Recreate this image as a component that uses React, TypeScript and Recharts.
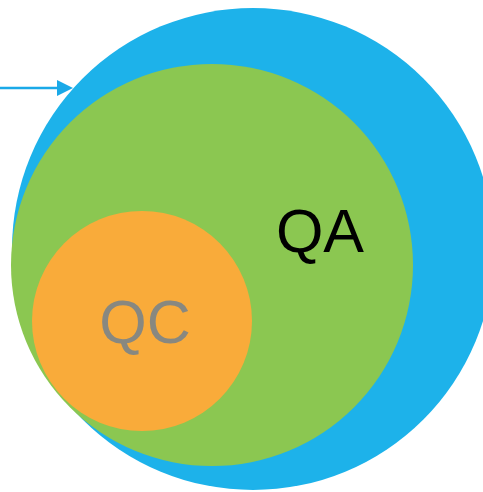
import { ReferenceLine, ReferenceDot, Scatter, ScatterChart, XAxis, YAxis } from 'recharts'

// circles, in page pixels (domain == chart size)
const circleNames = ['scope', 'QA', 'QC']
const circleX = [253, 212, 142]
const circleY = [249, 265, 321]
const circleR = [241, 201, 110]
const circleFill = ['#1db2ea', '#8bc751', '#f9ab3a']

const labelText = ['QA', 'QC']
const labelX = [320, 145]
const labelY = [252, 343]
const labelColor = ['#000000', '#888880']

const arrowFrom = [0, 88]
const arrowTo = [73, 88]

const W = 483
const H = 492

const circles = circleNames.map((name, i) => ({
  name,
  x: circleX[i],
  y: circleY[i],
  r: circleR[i],
  fill: circleFill[i],
}))

const labels = labelText.map((text, i) => ({ text, x: labelX[i], y: labelY[i], color: labelColor[i] }))

function CircleShape(props: any) {
  const { cx, cy, payload } = props
  return <circle cx={cx} cy={cy} r={payload.r} fill={payload.fill} />
}

function LabelShape(props: any) {
  const { cx, cy, payload } = props
  return (
    <text
      x={cx}
      y={cy}
      textAnchor="middle"
      fontFamily="'Liberation Sans', Arial, sans-serif"
      fontSize={61}
      fill={payload.color}
    >
      {payload.text}
    </text>
  )
}

function ArrowHead(props: any) {
  const { cx, cy } = props
  return <path d={`M${cx},${cy} L${cx - 16},${cy - 8} L${cx - 16},${cy + 8} Z`} fill="#1aa9e8" />
}

export default function App() {
  return (
    <div style={{ position: 'fixed', left: 0, top: 0, width: W, height: H, background: '#fff' }}>
      <ScatterChart width={W} height={H} margin={{ top: 0, right: 0, bottom: 0, left: 0 }}>
        <XAxis type="number" dataKey="x" domain={[0, W]} hide />
        <YAxis type="number" dataKey="y" domain={[0, H]} reversed hide />
        <Scatter data={circles} shape={CircleShape} isAnimationActive={false} />
        <Scatter data={labels} shape={LabelShape} isAnimationActive={false} />
        <ReferenceLine
          segment={[
            { x: arrowFrom[0], y: arrowFrom[1] },
            { x: arrowTo[0] - 14, y: arrowTo[1] },
          ]}
          stroke="#1aa9e8"
          strokeWidth={2.5}
          ifOverflow="visible"
        />
        <ReferenceDot x={arrowTo[0]} y={arrowTo[1]} shape={ArrowHead} ifOverflow="visible" />
      </ScatterChart>
    </div>
  )
}
